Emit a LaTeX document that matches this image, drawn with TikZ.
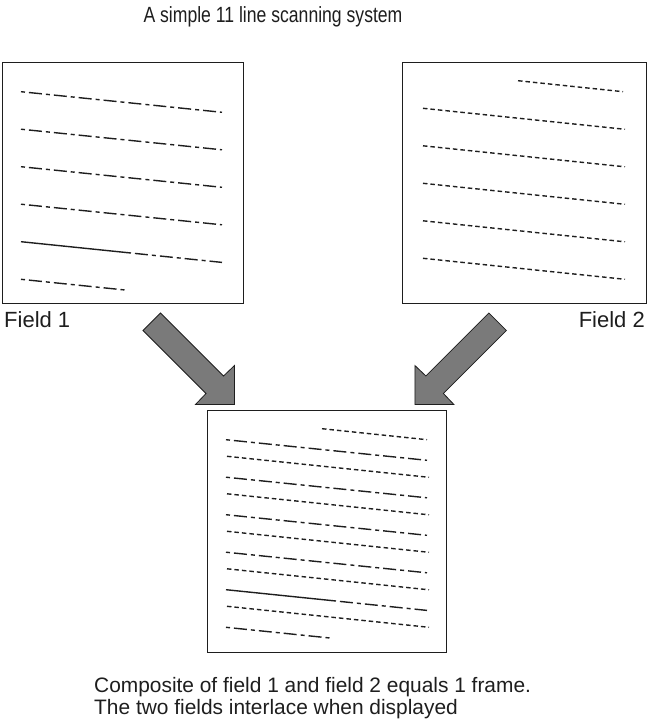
\documentclass[tikz,border=0pt]{standalone}
\usepackage{graphicx}
\usepackage{fontspec}
\setmainfont{Liberation Sans}
\definecolor{ink}{HTML}{1E1E1E}
\newcommand\fieldonelines{%
  \foreach \k in {0,...,3} {
    \draw[fone] (19,{29.7+37.5*\k}) -- (220,{50.3+37.5*\k});
  }
  \draw[fsolid] (19,179.7) -- (125,190.6);
  \draw[fone] (125,190.6) -- (220,200.4);
  \draw[fone] (19,217.3) -- (124,228.1);
}
\newcommand\fieldtwolines{%
  \draw[ftwo] (116,18.7) -- (221,29.7);
  \foreach \k in {0,...,4} {
    \draw[ftwo] (21,{46.3+37.5*\k}) -- (223,{67.3+37.5*\k});
  }
}
\begin{document}
\begin{tikzpicture}[x=1pt,y=-1pt,
  box/.style={draw=ink,line width=1.3pt,minimum width=241pt,minimum height=241pt,inner sep=0pt,anchor=north west},
  fone/.style={ink,line width=1.4pt,dash pattern=on 4pt off 4pt on 13pt off 4pt},
  fsolid/.style={ink,line width=1.4pt},
  ftwo/.style={ink,line width=1.4pt,dash pattern=on 4.5pt off 3pt},
  blockarrow/.style={fill=black!52,draw=ink,line width=0.8pt,line join=miter},
  lbl/.style={text=ink,inner sep=0pt,font=\fontsize{22}{26}\selectfont},
  captext/.style={text=ink,inner sep=0pt,anchor=base west,font=\fontsize{20.9}{24}\selectfont}]
\useasboundingbox (0,0) rectangle (649,720);
\node[text=ink,inner sep=0pt,anchor=base,font=\fontsize{22}{26}\selectfont] (title) at (273,23) {\scalebox{0.8}[1]{A simple 11 line scanning system}};
% boxes
\node[box] (f1) at (2,62) {};
\node[box,minimum width=244pt] (f2) at (402,62) {};
\node[box,minimum width=239pt,minimum height=242pt] (comp) at (207,410) {};
% contents
\begin{scope}[shift={(2,62)}]\fieldonelines\end{scope}
\begin{scope}[shift={(402,62)}]\fieldtwolines\end{scope}
\begin{scope}[shift={(207,410)}]\fieldonelines\end{scope}
\begin{scope}[shift={(206,410)}]\fieldtwolines\end{scope}
% labels
\node[lbl,anchor=base west] (l1) at (4,327) {Field 1};
\node[lbl,anchor=base east] (l2) at (645,327) {Field 2};
% block arrows
\draw[blockarrow] (160.5,313) -- (223.5,376) -- (234.5,365.5) -- (234.5,404.5) -- (195.5,404.5) -- (206,393.5) -- (143,330.5) -- cycle;
\draw[blockarrow] (488.9,313) -- (425.9,376) -- (414.9,365.5) -- (414.9,404.5) -- (453.9,404.5) -- (443.4,393.5) -- (506.4,330.5) -- cycle;
% caption
\node[captext] (c1) at (94,692) {Composite of field 1 and field 2 equals 1 frame.};
\node[captext] (c2) at (94,714) {The two fields interlace when displayed};
\end{tikzpicture}
\end{document}
